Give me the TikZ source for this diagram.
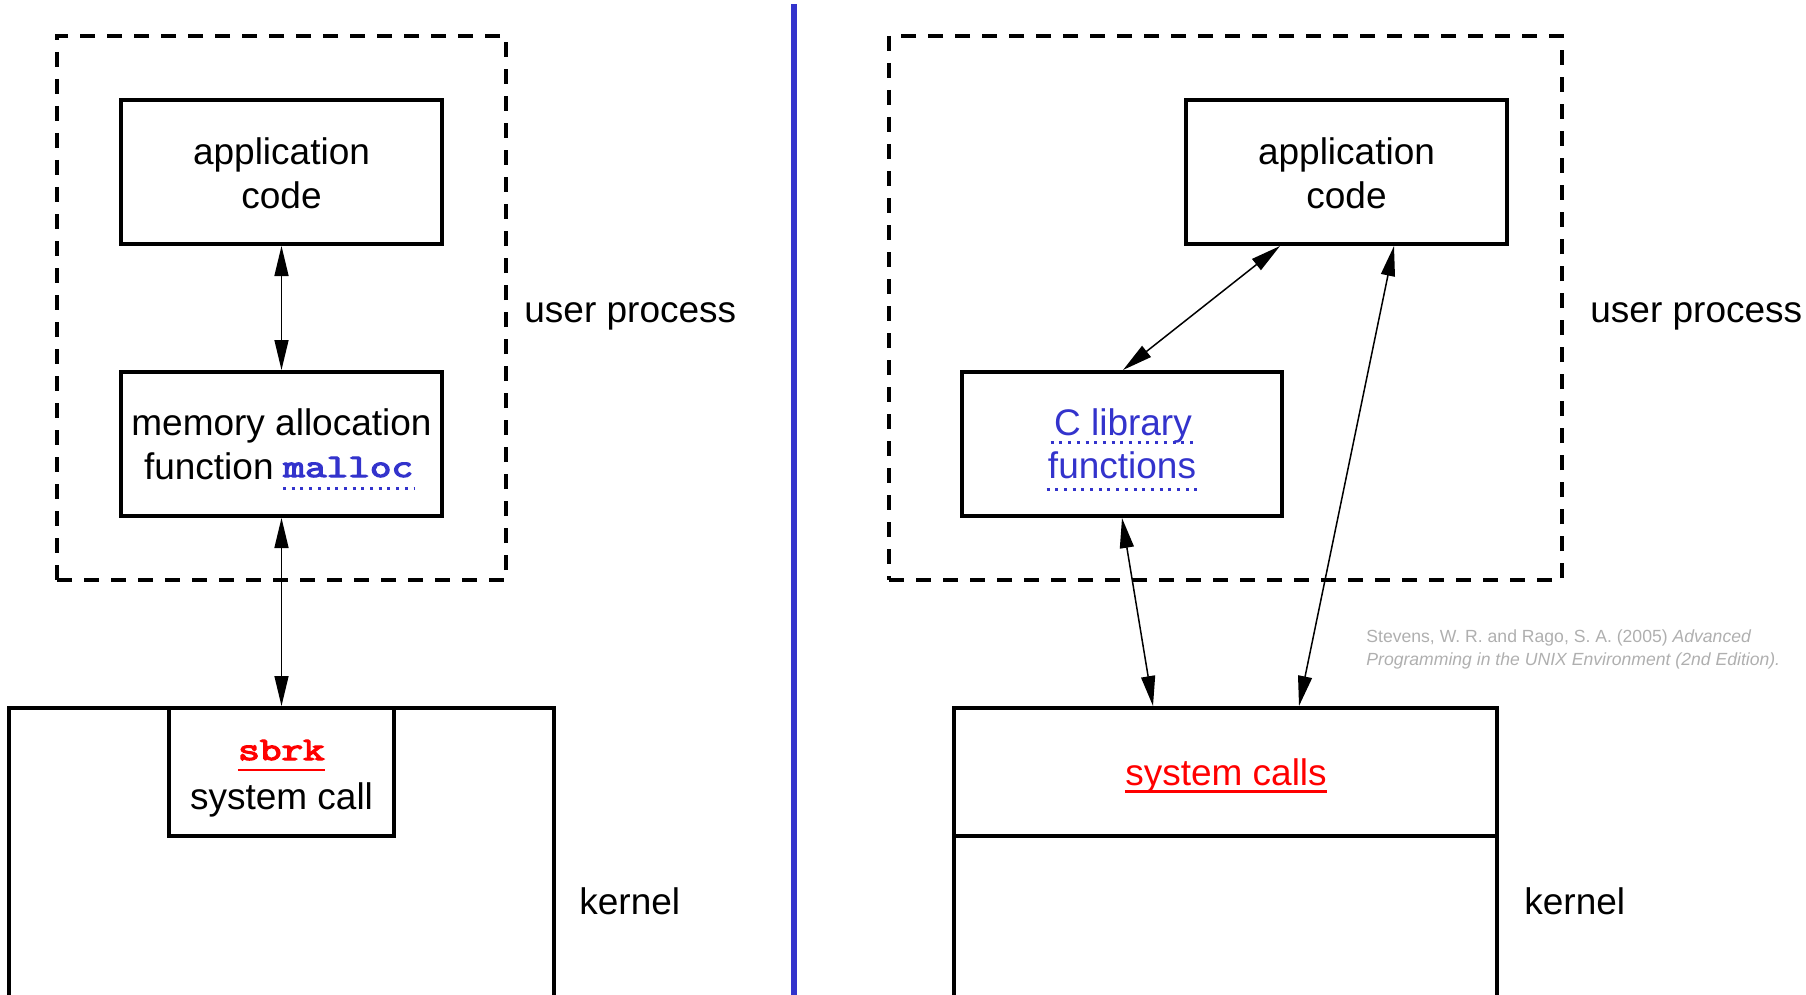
\documentclass[tikz,border=0pt]{standalone}
\usepackage{fontspec}
\setmainfont{Liberation Sans}
\newfontfamily\slabmono[FakeBold=3.5]{Latin Modern Mono}
\usetikzlibrary{arrows.meta}

\definecolor{linkblue}{RGB}{51,51,204}
\definecolor{callred}{RGB}{255,0,0}
\definecolor{citegray}{RGB}{175,175,175}

% heavy slab typewriter word, squeezed vertically
\newcommand\codeword[1]{\scalebox{1}[0.78]{\slabmono #1}}

\tikzset{
  box/.style={draw, line width=2pt, inner sep=0pt},
  dashbox/.style={draw, line width=2pt, dash pattern=on 7.5pt off 6pt, inner sep=0pt},
  lbl/.style={inner sep=0pt, anchor=base, font=\fontsize{18.5pt}{22pt}\selectfont},
  codelbl/.style={lbl, font=\fontsize{21pt}{22pt}\selectfont},
  citelbl/.style={inner sep=0pt, anchor=base west, text=citegray, font=\fontsize{8.8pt}{11.5pt}\selectfont},
  conn/.style={{Triangle[length=15pt,width=7pt]}-{Triangle[length=15pt,width=7pt]}, line width=0.75pt},
  dotul/.style={linkblue, line width=1.5pt, dash pattern=on 1.5pt off 2.85pt},
  redul/.style={callred, line width=1.4pt},
  divider/.style={linkblue, line width=2.75pt}
}

\begin{document}
\begin{tikzpicture}[x=0.5pt, y=-0.5pt]
\useasboundingbox (0,0) rectangle (1806,995);
\clip (0,0) rectangle (1806,995);

% ---------- left: malloc / sbrk ----------
\node[dashbox, minimum width=224.5pt, minimum height=272pt] (up1) at (281.5,308) {};
\node[box, minimum width=160.5pt, minimum height=72pt] (app1) at (281.5,172) {};
\node[lbl] (app1a) at (281.5,164) {application};
\node[lbl] (app1b) at (281.5,208) {code};

\node[box, minimum width=160.5pt, minimum height=72pt] (mal) at (281.5,444) {};
\node[lbl] (mal1) at (281.5,435) {memory allocation};
\node[lbl, anchor=base east] (mal2) at (274,479) {function};
\node[codelbl, anchor=base west, text=linkblue] (malloc) at (283,477) {\codeword{malloc}};
\draw[dotul] ([yshift=-5.5pt]malloc.base west) -- ([yshift=-5.5pt]malloc.base east);

\node[box, minimum width=272.5pt, minimum height=147pt] (kern1) at (281.5,855) {};
\node[box, minimum width=112.5pt, minimum height=64pt] (sbrkbox) at (281.5,772) {};
\node[codelbl, text=callred] (sbrk) at (281.5,760) {\codeword{sbrk}};
\draw[redul] ([yshift=-5pt]sbrk.base west) -- ([yshift=-5pt]sbrk.base east);
\node[lbl] (sbrk2) at (281.5,809) {system call};

\node[lbl, anchor=base west] (user1) at (524,322) {user process};
\node[lbl, anchor=base west] (kname1) at (579,914) {kernel};

\draw[conn] (app1.south) -- (mal.north);
\draw[conn] (mal.south) -- (sbrkbox.north);

% ---------- divider ----------
\draw[divider] (794,4) -- (794,1000);

% ---------- right: C library / system calls ----------
\node[dashbox, minimum width=336.5pt, minimum height=272pt] (up2) at (1225.5,308) {};
\node[box, minimum width=160.5pt, minimum height=72pt] (app2) at (1346.5,172) {};
\node[lbl] (app2a) at (1346.5,164) {application};
\node[lbl] (app2b) at (1346.5,208) {code};

\node[box, minimum width=160pt, minimum height=72pt] (clib) at (1122,444) {};
\node[lbl, text=linkblue] (clib1) at (1123,435) {C library};
\node[lbl, text=linkblue] (clib2) at (1122,478) {functions};
\draw[dotul] ([xshift=-1.5pt,yshift=-3.5pt]clib1.base west) -- ([xshift=2pt,yshift=-3.5pt]clib1.base east);
\draw[dotul] ([xshift=-0.5pt,yshift=-5.5pt]clib2.base west) -- ([xshift=2.5pt,yshift=-5.5pt]clib2.base east);

\node[box, minimum width=271.5pt, minimum height=64pt] (sys) at (1225.5,772) {};
\node[box, minimum width=271.5pt, minimum height=83pt] (kern2) at (1225.5,919) {};
\node[lbl, text=callred] (sys1) at (1226,785) {system calls};
\draw[redul] ([yshift=-3.2pt]sys1.base west) -- ([yshift=-3.2pt]sys1.base east);

\node[lbl, anchor=base west] (user2) at (1590,322) {user process};
\node[lbl, anchor=base west] (kname2) at (1524,914) {kernel};

\node[citelbl] (cite1) at (1366,642) {Stevens, W. R. and Rago, S. A. (2005) \textit{Advanced}};
\node[citelbl] (cite2) at (1366,665) {\textit{Programming in the UNIX Environment (2nd Edition).}};

\draw[conn] ([xshift=-33.25pt]app2.south) -- ([xshift=0.5pt]clib.north);
\draw[conn] (clib.south) -- ([xshift=-36.25pt]sys.north);
\draw[conn] ([xshift=23.75pt]app2.south) -- ([xshift=36.75pt]sys.north);
\end{tikzpicture}
\end{document}
